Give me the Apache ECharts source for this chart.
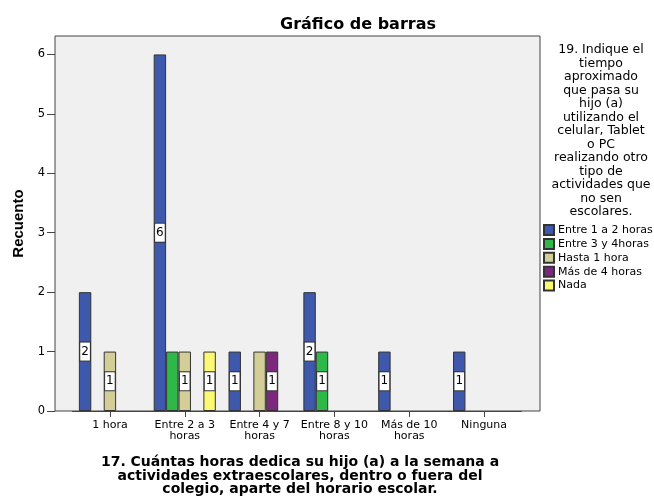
<!DOCTYPE html>
<html>
<head>
    <meta charset="utf-8">
    <script src="https://cdn.jsdelivr.net/npm/echarts@6/dist/echarts.min.js"></script>
</head>
<body style="margin:0;background:#fff;">
<div id="main" style="width:654px;height:499px;"></div>
<script type="text/javascript">
    // categorias del eje X (pregunta 17)
    var categorias = ['1 hora', 'Entre 2 a 3\nhoras', 'Entre 4 y 7\nhoras', 'Entre 8 y 10\nhoras', 'Más de 10\nhoras', 'Ninguna'];
    // grupos (pregunta 19)
    var grupos = ['Entre 1 a 2 horas', 'Entre 3 y 4horas', 'Hasta 1 hora', 'Más de 4 horas', 'Nada'];
    var colores = ['#3e58ac', '#2eb848', '#d3ce97', '#7c287d', '#fbf873'];

    var entre1y2 = [2, 6, 1, 2, 1, 1];
    var entre3y4 = [null, 1, null, 1, null, null];
    var hasta1 = [1, 1, 1, null, null, null];
    var mas4 = [null, null, 1, null, null, null];
    var nada = [null, 1, null, null, null, null];
    var valores = [entre1y2, entre3y4, hasta1, mas4, nada];

    // etiquetas que SPSS no muestra: [serie, categoria]
    var sinEtiqueta = [[1, 1], [2, 2]];

    var yTicks = [0, 1, 2, 3, 4, 5, 6];
    var yMax = 6.31;

    var fuente = 'DejaVu Sans, Verdana, sans-serif';
    var fuenteArial = 'Liberation Sans, Arial, sans-serif';

    var series = [];
    for (var s = 0; s < grupos.length; s++) {
        var datos = [];
        for (var c = 0; c < categorias.length; c++) {
            var item = {value: valores[s][c]};
            for (var k = 0; k < sinEtiqueta.length; k++) {
                if (sinEtiqueta[k][0] === s && sinEtiqueta[k][1] === c) {
                    item.label = {show: false};
                }
            }
            datos.push(item);
        }
        series.push({
            name: grupos[s],
            type: 'bar',
            xAxisIndex: 1,
            yAxisIndex: 1,
            barGap: '0%',
            barCategoryGap: '17%',
            itemStyle: {color: colores[s], borderColor: '#333', borderWidth: 1},
            label: {
                show: true,
                position: 'inside',
                color: '#000',
                fontFamily: fuente,
                fontSize: 12,
                backgroundColor: '#fff',
                borderColor: '#333',
                borderWidth: 1,
                padding: [3, 1, 3, 1]
            },
            emphasis: {disabled: true},
            data: datos
        });
    }

    var myChart = echarts.init(document.getElementById('main'));
    var option = {
        animation: false,
        backgroundColor: '#fff',
        title: [{
            text: 'Gráfico de barras',
            left: 353,
            textAlign: 'center',
            top: 12,
            textStyle: {fontFamily: fuente, fontWeight: 'bold', fontSize: 16, color: '#000'}
        }, {
            text: '19. Indique el\ntiempo\naproximado\nque pasa su\nhijo (a)\nutilizando el\ncelular, Tablet\no PC\nrealizando otro\ntipo de\nactividades que\nno sen\nescolares.',
            left: 596,
            textAlign: 'center',
            top: 38,
            textStyle: {fontFamily: fuente, fontWeight: 'normal', fontSize: 12.5, lineHeight: 13.5, color: '#000'}
        }],
        legend: {
            orient: 'vertical',
            left: 543,
            top: 224,
            padding: 0,
            itemWidth: 10,
            itemHeight: 10,
            itemGap: 1.9,
            icon: 'rect',
            textStyle: {fontFamily: fuente, fontSize: 11, color: '#000', padding: [0, 0, 0, -1]},
            data: grupos
        },
        grid: [{
            left: 55, right: 114, top: 36, bottom: 88,
            outerBoundsMode: 'none',
            show: true,
            backgroundColor: '#f0f0f0',
            borderColor: '#444',
            borderWidth: 1
        }, {
            left: 72.5, right: 132.5, top: 36, bottom: 88,
            outerBoundsMode: 'none'
        }],
        xAxis: [{
            gridIndex: 0,
            type: 'value',
            show: false
        }, {
            gridIndex: 1,
            type: 'category',
            data: categorias,
            axisLine: {show: true, lineStyle: {color: '#444'}},
            axisTick: {show: true, alignWithLabel: true, length: 6, lineStyle: {color: '#444'}},
            axisLabel: {
                interval: 0,
                margin: 8,
                fontFamily: fuente,
                fontSize: 11,
                lineHeight: 11.5,
                color: '#000'
            },
            name: '17. Cuántas horas dedica su hijo (a) a la semana a\nactividades extraescolares, dentro o fuera del\ncolegio, aparte del horario escolar.',
            nameLocation: 'middle',
            nameGap: 45,
            nameTextStyle: {
                fontFamily: fuente,
                fontWeight: 'bold',
                fontSize: 14,
                lineHeight: 13.5,
                color: '#000',
                verticalAlign: 'top',
                padding: [0, 0, 0, 6]
            }
        }],
        yAxis: [{
            gridIndex: 0,
            type: 'value',
            min: 0,
            max: yMax,
            interval: 1,
            splitLine: {show: false},
            axisLine: {show: false},
            axisTick: {show: true, length: 8, customValues: yTicks, lineStyle: {color: '#444'}},
            axisLabel: {
                margin: 10,
                fontFamily: fuente,
                fontSize: 11.5,
                color: '#000',
                customValues: yTicks
            },
            name: 'Recuento',
            nameLocation: 'middle',
            nameGap: 28,
            nameTextStyle: {fontFamily: fuenteArial, fontWeight: 'bold', fontSize: 15, color: '#000'}
        }, {
            gridIndex: 1,
            type: 'value',
            min: 0,
            max: yMax,
            show: false,
            splitLine: {show: false}
        }],
        series: series
    };
    myChart.setOption(option);
</script>
</body>
</html>
